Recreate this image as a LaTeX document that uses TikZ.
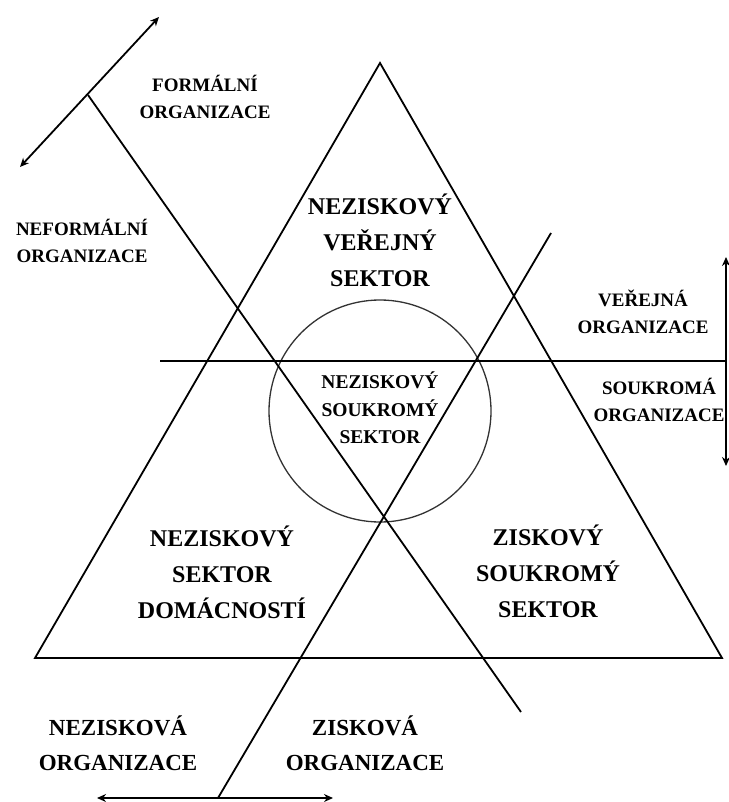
\documentclass[tikz,border=0pt]{standalone}
\usepackage{fontspec}
\setmainfont{Liberation Serif}
\usetikzlibrary{arrows.meta, positioning}
\tikzset{
  % --- Popisky ------------------------------------------------
  sektor/.style={align=center, font=\fontsize{24}{36}\selectfont\bfseries,
    inner sep=0pt},
  stredlbl/.style={align=center, font=\fontsize{19.5}{27.5}\selectfont\bfseries,
    inner sep=0pt},
  orglbl/.style={align=center, font=\fontsize{19}{27}\selectfont\bfseries,
    inner sep=0pt},
  orgdolni/.style={align=center, font=\fontsize{23}{35}\selectfont\bfseries,
    inner sep=0pt},
  % --- Cary ---------------------------------------------------
  hrana/.style={line width=1.8pt, line join=miter},
  osa/.style={line width=1.8pt},
  osa2/.style={{Stealth[length=9pt,width=8pt]}-{Stealth[length=9pt,width=8pt]},
    line width=1.8pt},
  kruh/.style={line width=1.3pt, draw=black!80}
}

\begin{document}
\begin{tikzpicture}[x=1pt, y=-1pt]
  \useasboundingbox (0,0) rectangle (728,802);

  % --- Body trojuhelniku a os ------------------------------------
  \coordinate (vrchol) at (380,63);
  \coordinate (levy) at (35,658);
  \coordinate (pravy) at (722,658);
  \coordinate (formTop) at (159,17);
  \coordinate (formBot) at (20,167);
  \coordinate (formPata) at (88,95);
  \coordinate (ziskL) at (97,798);
  \coordinate (ziskR) at (333,798);
  \coordinate (ziskPata) at (218,798);
  \coordinate (diagHorni) at (551,233);
  \coordinate (diagDolni) at (521,712);
  \coordinate (verTop) at (726,257);
  \coordinate (verBot) at (726,466);
  \coordinate (horLevy) at (160,361);
  \coordinate (horPravy) at (726,361);

  % --- Trojuhelnik a kruh ----------------------------------------
  \draw[hrana] (vrchol) -- (levy) -- (pravy) -- cycle;
  \draw[kruh] (380,411) circle (111);

  % --- Osy -------------------------------------------------------
  \draw[osa2] (formBot) -- (formTop);
  \draw[osa] (formPata) -- (diagDolni);
  \draw[osa2] (ziskL) -- (ziskR);
  \draw[osa] (ziskPata) -- (diagHorni);
  \draw[osa2] (verBot) -- (verTop);
  \draw[osa] (horLevy) -- (horPravy);

  % --- Sektory ---------------------------------------------------
  \node[sektor] (verejny) at (380,240) {NEZISKOVÝ\\VEŘEJNÝ\\SEKTOR};
  \node[sektor] (domacnosti) at (222,572) {NEZISKOVÝ\\SEKTOR\\DOMÁCNOSTÍ};
  \node[sektor] (soukromy) at (548,571) {ZISKOVÝ\\SOUKROMÝ\\SEKTOR};
  \node[stredlbl] (stred) at (380,408) {NEZISKOVÝ\\SOUKROMÝ\\SEKTOR};

  % --- Popisky os ------------------------------------------------
  \node[orglbl] (formalni) at (205,97) {FORMÁLNÍ\\ORGANIZACE};
  \node[orglbl] (neformalni) at (82,241) {NEFORMÁLNÍ\\ORGANIZACE};
  \node[orglbl] (verejna) at (643,312) {VEŘEJNÁ\\ORGANIZACE};
  \node[orglbl] (soukroma) at (659,400) {SOUKROMÁ\\ORGANIZACE};
  \node[orgdolni] (neziskova) at (118,743) {NEZISKOVÁ\\ORGANIZACE};
  \node[orgdolni] (ziskova) at (365,743) {ZISKOVÁ\\ORGANIZACE};

\end{tikzpicture}
\end{document}
